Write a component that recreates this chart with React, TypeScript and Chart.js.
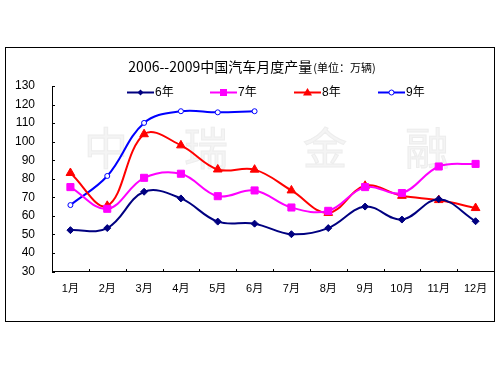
import React, { useEffect, useRef } from "react";
import { Chart, registerables } from "chart.js";

Chart.register(...registerables);

const months = ["1月", "2月", "3月", "4月", "5月", "6月", "7月", "8月", "9月", "10月", "11月", "12月"];
const seriesNames = ["6年", "7年", "8年", "9年"];
const y2006 = [52.3, 53.4, 73, 69.4, 56.9, 55.8, 50.1, 53.4, 65, 58, 69, 57.1];
const y2007 = [75.5, 63.8, 80.5, 82.7, 70.6, 73.7, 64.5, 62.7, 75.5, 72.3, 86.6, 88];
const y2008 = [83.1, 65.4, 104, 98, 85, 84.9, 73.7, 61.6, 76.2, 70.8, 68.5, 64.2];
const y2009 = [65.8, 81.5, 110.1, 116.4, 115.8, 116.4];
const yMin = 30;
const yMax = 130;
const yStep = 10;
const titleMain = "2006--2009中国汽车月度产量";
const titleUnit = "(单位：万辆)";
const watermarkChars = ["中", "瑞", "金", "融"];

const FONT = '"Liberation Sans", "Noto Sans CJK SC", sans-serif';
const CJK = '"Noto Sans CJK SC", "Liberation Sans", sans-serif';

const colors = ["#000080", "#FF00FF", "#FF0000", "#0000FF"];

function drawMarker(ctx: CanvasRenderingContext2D, idx: number, x: number, y: number) {
  ctx.save();
  ctx.lineWidth = 1;
  ctx.strokeStyle = colors[idx];
  ctx.fillStyle = colors[idx];
  ctx.beginPath();
  if (idx === 0) {
    const r = 3;
    ctx.moveTo(x, y - r);
    ctx.lineTo(x + r, y);
    ctx.lineTo(x, y + r);
    ctx.lineTo(x - r, y);
    ctx.closePath();
    ctx.fill();
  } else if (idx === 1) {
    ctx.rect(x - 3.5, y - 3.5, 7, 7);
    ctx.fill();
  } else if (idx === 2) {
    ctx.moveTo(x, y - 4.5);
    ctx.lineTo(x + 4.5, y + 3);
    ctx.lineTo(x - 4.5, y + 3);
    ctx.closePath();
    ctx.fill();
  } else {
    ctx.arc(x, y, 2.5, 0, Math.PI * 2);
    ctx.fillStyle = "#fff";
    ctx.fill();
    ctx.stroke();
  }
  ctx.restore();
}

const decorPlugin = {
  id: "decor",
  beforeDraw(chart: any) {
    const ctx: CanvasRenderingContext2D = chart.ctx;
    ctx.save();
    ctx.fillStyle = "#fff";
    ctx.fillRect(0, 0, chart.width, chart.height);
    // watermark
    ctx.fillStyle = "#f4f4f4";
    ctx.strokeStyle = "#ededed";
    ctx.lineWidth = 1;
    ctx.font = `44px ${CJK}`;
    ctx.textAlign = "center";
    ctx.textBaseline = "middle";
    const wx = [106, 206, 325, 427];
    watermarkChars.forEach((c, i) => {
      ctx.fillText(c, wx[i], 148);
      ctx.strokeText(c, wx[i], 148);
    });
    // outer border
    ctx.strokeStyle = "#000";
    ctx.lineWidth = 1;
    ctx.strokeRect(5.5, 47.5, 489, 274);
    ctx.restore();
  },
  afterDraw(chart: any) {
    const ctx: CanvasRenderingContext2D = chart.ctx;
    const xs = chart.scales.x;
    const ys = chart.scales.y;
    const area = chart.chartArea;
    ctx.save();
    ctx.strokeStyle = "#000";
    ctx.lineWidth = 1;
    ctx.beginPath();
    for (let i = 1; i <= months.length; i++) {
      const px = Math.round(xs.getPixelForValue(i - 0.5)) + 0.5;
      ctx.moveTo(px, Math.round(area.bottom));
      ctx.lineTo(px, Math.round(area.bottom) - 3);
    }
    for (let v = yMin; v <= yMax; v += yStep) {
      const py = Math.round(ys.getPixelForValue(v)) + 0.5;
      ctx.moveTo(Math.round(area.left), py);
      ctx.lineTo(Math.round(area.left) + 3, py);
    }
    ctx.stroke();

    // title
    ctx.fillStyle = "#000";
    ctx.textBaseline = "alphabetic";
    ctx.textAlign = "left";
    ctx.font = `14px ${CJK}`;
    const w1 = ctx.measureText(titleMain).width;
    ctx.font = `11px ${CJK}`;
    const w2 = ctx.measureText(titleUnit).width;
    const start = 251.5 - (w1 + w2) / 2;
    ctx.font = `14px ${CJK}`;
    ctx.fillText(titleMain, start, 72);
    ctx.font = `11px ${CJK}`;
    ctx.fillText(titleUnit, start + w1 + 1, 72);

    // legend
    const lx = [127, 210, 294, 378];
    const ly = 92.5;
    ctx.font = `12px ${FONT}`;
    ctx.textBaseline = "middle";
    seriesNames.forEach((name, i) => {
      ctx.strokeStyle = colors[i];
      ctx.lineWidth = 2;
      ctx.beginPath();
      ctx.moveTo(lx[i], ly);
      ctx.lineTo(lx[i] + 27, ly);
      ctx.stroke();
      drawMarker(ctx, i, lx[i] + 13.5, ly);
      ctx.fillStyle = "#000";
      ctx.fillText(name, lx[i] + 28, ly);
    });
    ctx.restore();
  },
};

export default function App() {
  const ref = useRef<HTMLCanvasElement | null>(null);
  useEffect(() => {
    if (!ref.current) return;
    const mk = (i: number, data: number[], style: string, radius: number, bg: string) => ({
      label: seriesNames[i],
      data,
      borderColor: colors[i],
      backgroundColor: colors[i],
      borderWidth: 2,
      pointStyle: style,
      pointRadius: radius,
      pointBackgroundColor: bg,
      pointBorderColor: colors[i],
      pointBorderWidth: 1,
      tension: 0.38,
      fill: false,
    });
    const chart = new Chart(ref.current, {
      type: "line",
      data: {
        labels: months,
        datasets: [
          mk(0, y2006, "rectRot", 3.5, colors[0]),
          mk(1, y2007, "rect", 5, colors[1]),
          mk(2, y2008, "triangle", 5, colors[2]),
          mk(3, y2009, "circle", 2.5, "#ffffff"),
        ],
      },
      options: {
        responsive: false,
        animation: false,
        events: [],
        layout: { padding: { left: 0, top: 86, right: 6, bottom: 73.5 } },
        plugins: { legend: { display: false }, title: { display: false }, tooltip: { enabled: false } },
        scales: {
          x: {
            offset: true,
            grid: { offset: true, drawOnChartArea: false, drawTicks: false },
            border: { color: "#000", width: 1 },
            ticks: { color: "#000", font: { size: 11, family: FONT }, padding: 11, maxRotation: 0, autoSkip: false },
            afterFit: (s: any) => {
              s.height = 30;
            },
          },
          y: {
            min: yMin,
            max: yMax,
            grid: { drawOnChartArea: false, drawTicks: false },
            border: { color: "#000", width: 1 },
            ticks: { stepSize: yStep, color: "#000", font: { size: 12, family: FONT }, padding: 17 },
            afterFit: (s: any) => {
              s.width = 52;
            },
          },
        },
      },
      plugins: [decorPlugin],
    } as any);
    return () => chart.destroy();
  }, []);
  return (
    <div style={{ position: "fixed", left: 0, top: 0, width: 500, height: 375, background: "#fff" }}>
      <canvas ref={ref} width={500} height={375} style={{ display: "block" }} />
    </div>
  );
}
